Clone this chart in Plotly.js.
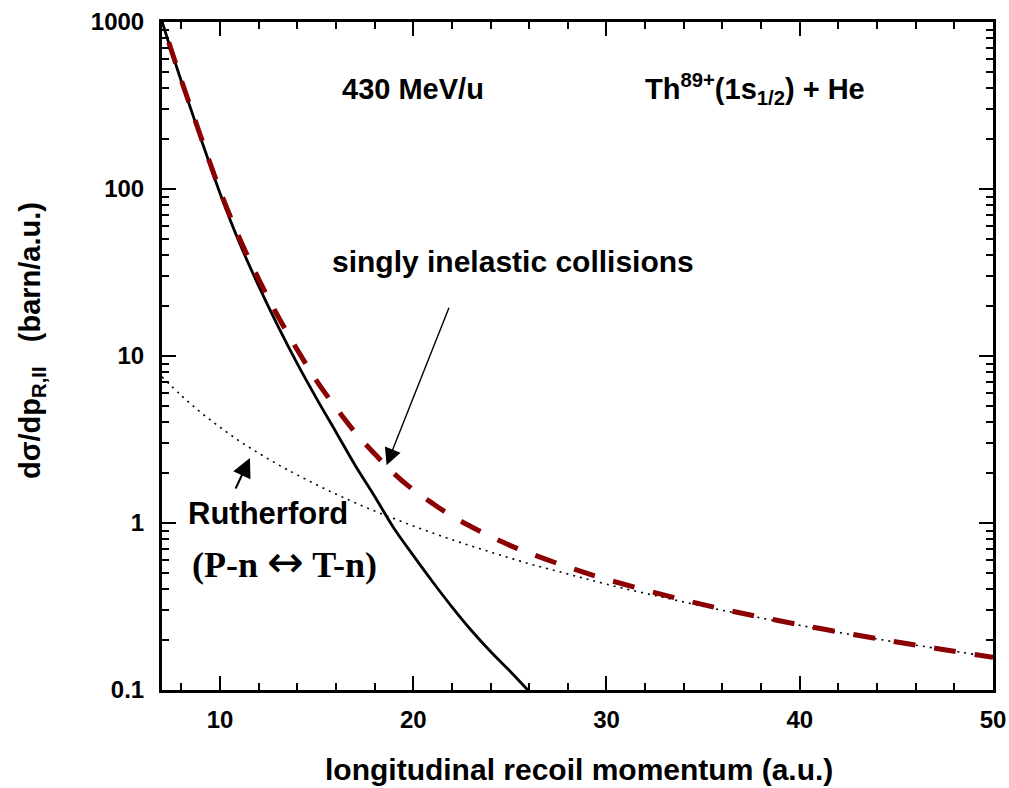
<!DOCTYPE html>
<html>
<head>
<meta charset="utf-8">
<script src="https://cdn.plot.ly/plotly-3.0.1.min.js"></script>
<style>html,body{margin:0;padding:0;background:#fff;}#chart{width:1009px;height:788px;}</style>
</head>
<body>
<div id="chart"></div>
<script>
// ---- data ----
const totalX = [7.0, 7.5, 8.0, 8.5, 9.0, 9.5, 10, 11, 12, 13, 14, 15, 16, 17, 18, 19, 20, 21, 22, 23, 24, 25, 26, 26.5];
const totalY = [1010, 661, 442, 299, 202, 138, 94.4, 47.9, 26.3, 15.1, 9.0, 5.56, 3.51, 2.21, 1.445, 0.93, 0.64, 0.445, 0.315, 0.228, 0.17, 0.13, 0.098, 0.086];

const rutherfordX = [7, 8, 9, 10, 11, 12, 13, 14, 16, 18, 20, 22, 24, 26, 28, 30, 33, 36, 40, 44, 47, 50];
const rutherfordY = [7.5, 5.8, 4.6, 3.75, 3.1, 2.62, 2.24, 1.94, 1.49, 1.18, 0.96, 0.795, 0.67, 0.57, 0.495, 0.43, 0.357, 0.30, 0.244, 0.202, 0.178, 0.157];

const inelasticX = [7.35, 8, 9, 10, 11, 12, 13, 14, 15, 16, 17, 18, 19, 20, 21, 22, 23, 24, 25, 26, 28, 30, 33, 36, 40, 44, 47, 50];
const inelasticY = [755, 448, 207, 98, 51, 28.9, 17.3, 10.9, 7.1, 4.9, 3.48, 2.6, 1.98, 1.58, 1.31, 1.10, 0.95, 0.83, 0.735, 0.66, 0.545, 0.46, 0.37, 0.305, 0.246, 0.203, 0.178, 0.157];

const yTickVals = [0.1, 1, 10, 100, 1000];
const yTickText = ['0.1', '1', '10', '100', '1000'];
const xTickVals = [10, 20, 30, 40, 50];
const xTickText = ['10', '20', '30', '40', '50'];

// ---- layout helpers (pixel -> paper) ----
const L = 162, R = 993, T = 22, B = 690;
const px = v => (v - L) / (R - L);
const py = v => (B - v) / (B - T);

const SANS = 'Liberation Sans, Arial, sans-serif';
const SERIF = 'Liberation Serif, Times New Roman, serif';

const traces = [
  {x: rutherfordX, y: rutherfordY, mode: 'lines', line: {color: '#000', width: 1.6, dash: '2px,5px', shape: 'spline', smoothing: 1}, hoverinfo: 'skip'},
  {x: totalX, y: totalY, mode: 'lines', line: {color: '#000', width: 2.8, shape: 'spline', smoothing: 1}, hoverinfo: 'skip'},
  {x: inelasticX, y: inelasticY, mode: 'lines', line: {color: '#8B0000', width: 5, dash: '22px,19px', shape: 'spline', smoothing: 1}, hoverinfo: 'skip'}
];

const txt = (text, x, y, size, family, extra) => Object.assign({
  text: text, xref: 'paper', yref: 'paper', x: px(x), y: py(y),
  xanchor: 'center', yanchor: 'middle', showarrow: false,
  font: {family: family || SANS, size: size, color: '#000', weight: 'bold'}
}, extra || {});

const annotations = [
  txt('430 MeV/u', 413, 89, 29),
  txt('Th<sup>89+</sup>(1s<sub>1/2</sub>) + He', 755, 89, 29),
  txt('singly inelastic collisions', 513, 261, 30),
  txt('Rutherford', 268, 513, 31),
  txt('(P-n <span style="font-family:\'DejaVu Sans\';font-size:44px;font-weight:normal">\u2194</span> T-n)', 284, 561, 36, SERIF),
  txt('longitudinal recoil momentum (a.u.)', 579, 769, 30),
  txt('d\u03c3/dp<sub>R,II</sub>\u00a0\u00a0 (barn/a.u.)', 32, 341, 29, SANS, {textangle: -90}),
  // arrows
  {x: 18.62, y: Math.log10(2.22), xref: 'x', yref: 'y', showarrow: true, text: '',
   ax: 63, ay: -159, arrowhead: 2, arrowsize: 2.4, arrowwidth: 1.4, arrowcolor: '#000', standoff: 0},
  {x: 11.55, y: Math.log10(2.45), xref: 'x', yref: 'y', showarrow: true, text: '',
   ax: -15, ay: 32, arrowhead: 2, arrowsize: 1.9, arrowwidth: 2, arrowcolor: '#000', standoff: 0}
];

const layout = {
  width: 1009, height: 788,
  margin: {l: L, r: 1009 - R, t: T, b: 788 - B, pad: 0},
  paper_bgcolor: '#fff', plot_bgcolor: '#fff',
  showlegend: false,
  xaxis: {
    range: [7, 50], tickmode: 'array', tickvals: xTickVals, ticktext: xTickText,
    ticks: 'inside', ticklen: 14, tickwidth: 2, tickcolor: '#000',
    showline: true, linewidth: 3, linecolor: '#000', mirror: 'allticks',
    showgrid: false, zeroline: false,
    tickfont: {family: SANS, size: 24, color: '#000', weight: 'bold'},
    ticklabelstandoff: 6,
    minor: {dtick: 2, tick0: 0, ticks: 'inside', ticklen: 7, tickwidth: 2, tickcolor: '#000', showgrid: false}
  },
  yaxis: {
    type: 'log', range: [-1, 3], tickmode: 'array', tickvals: yTickVals, ticktext: yTickText,
    ticks: 'inside', ticklen: 14, tickwidth: 2, tickcolor: '#000',
    showline: true, linewidth: 3, linecolor: '#000', mirror: 'allticks',
    showgrid: false, zeroline: false,
    tickfont: {family: SANS, size: 24, color: '#000', weight: 'bold'},
    ticklabelstandoff: 10,
    minor: {dtick: 'D1', ticks: 'inside', ticklen: 7, tickwidth: 2, tickcolor: '#000', showgrid: false}
  },
  annotations: annotations
};

Plotly.newPlot('chart', traces, layout, {displayModeBar: false, staticPlot: true});
</script>
</body>
</html>
